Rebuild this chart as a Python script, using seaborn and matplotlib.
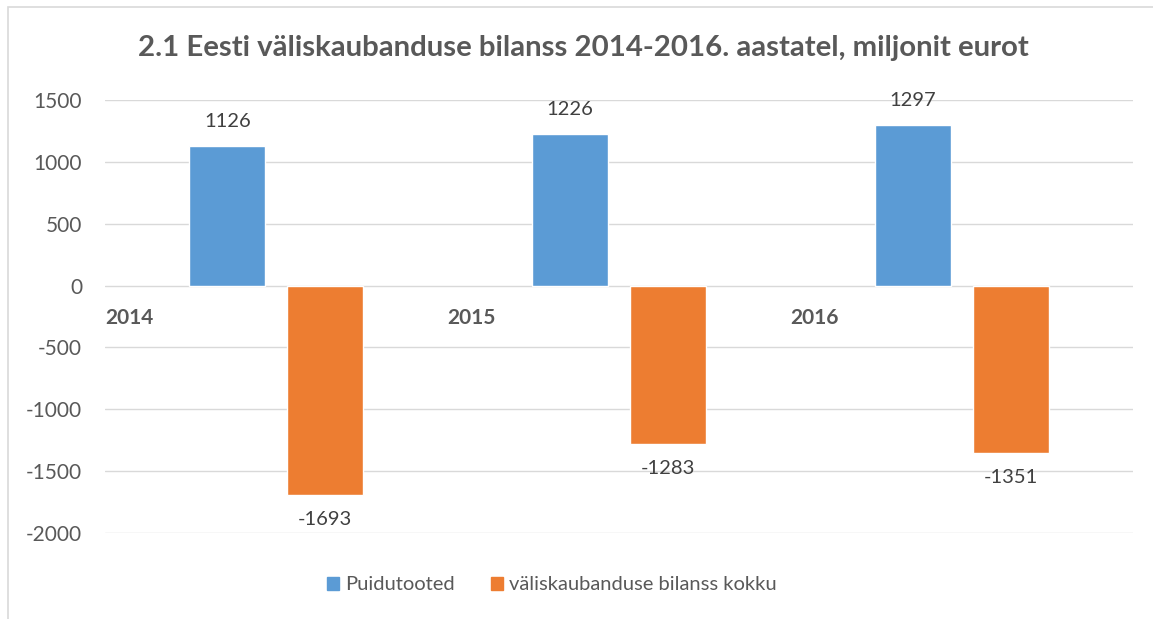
import matplotlib
matplotlib.use("Agg")
import matplotlib.pyplot as plt
import matplotlib.patches as mpatches
import pandas as pd
import seaborn as sns

years = ["2014", "2015", "2016"]
series_names = ["Puidutooted", "väliskaubanduse bilanss kokku"]
puidutooted = [1126, 1226, 1297]
bilanss = [-1693, -1283, -1351]
colors = ["#5B9BD5", "#ED7D31"]

df = pd.DataFrame({
    "year": years * 2,
    "series": [series_names[0]] * 3 + [series_names[1]] * 3,
    "value": puidutooted + bilanss,
})

sns.set_theme(style="white")
plt.rcParams["font.family"] = ["Lato", "DejaVu Sans"]
plt.rcParams["axes.unicode_minus"] = False

fig = plt.figure(figsize=(11.53, 6.19), dpi=100)
ax = fig.add_axes([105 / 1153, 1 - 533 / 619, (1133 - 105) / 1153, (533 - 100) / 619])

sns.barplot(data=df, x="year", y="value", hue="series", palette=colors,
            width=0.572, gap=0.224, ax=ax, legend=False, saturation=1)

ax.set_xlim(-0.5, 2.5)
ax.set_ylim(-2000, 1500)
ax.set_yticks(range(-2000, 1501, 500))
ax.yaxis.grid(True, color="#D9D9D9", linewidth=1.0)
ax.set_axisbelow(True)
for s in ax.spines.values():
    s.set_visible(False)
ax.tick_params(axis="y", labelsize=15, colors="#595959", length=0, pad=16.5)
ax.set_xticks([])
ax.set_xlabel("")
ax.set_ylabel("")

# data labels
for cont in ax.containers:
    ax.bar_label(cont, fmt="%d", padding=11.5, fontsize=14.5, color="#404040")

# category labels at left of each group, just below zero line
for i, y in enumerate(years):
    ax.text(i - 0.5, -260, y, fontsize=15, fontweight="bold", color="#595959",
            ha="left", va="center")

fig.text(583 / 1153, 1 - 48 / 619,
         "2.1 Eesti väliskaubanduse bilanss 2014-2016. aastatel, miljonit eurot",
         ha="center", va="center", fontsize=21.2, fontweight="bold", color="#595959")

handles = [mpatches.Patch(color=c, label=n) for c, n in zip(colors, series_names)]
fig.legend(handles=handles, loc="center", bbox_to_anchor=(552 / 1153, 1 - 585 / 619),
           ncol=2, frameon=False, fontsize=14.5, labelcolor="#595959",
           handlelength=0.6, handleheight=0.6, handletextpad=0.3, columnspacing=1.8)

# chart frame
frame = mpatches.Rectangle((8 / 1153, -0.1), 1.2, 1.1 - 7 / 619,
                           transform=fig.transFigure, fill=False,
                           edgecolor="#D9D9D9", linewidth=1.2)
fig.patches.append(frame)

fig.savefig("out.png", dpi=100)
